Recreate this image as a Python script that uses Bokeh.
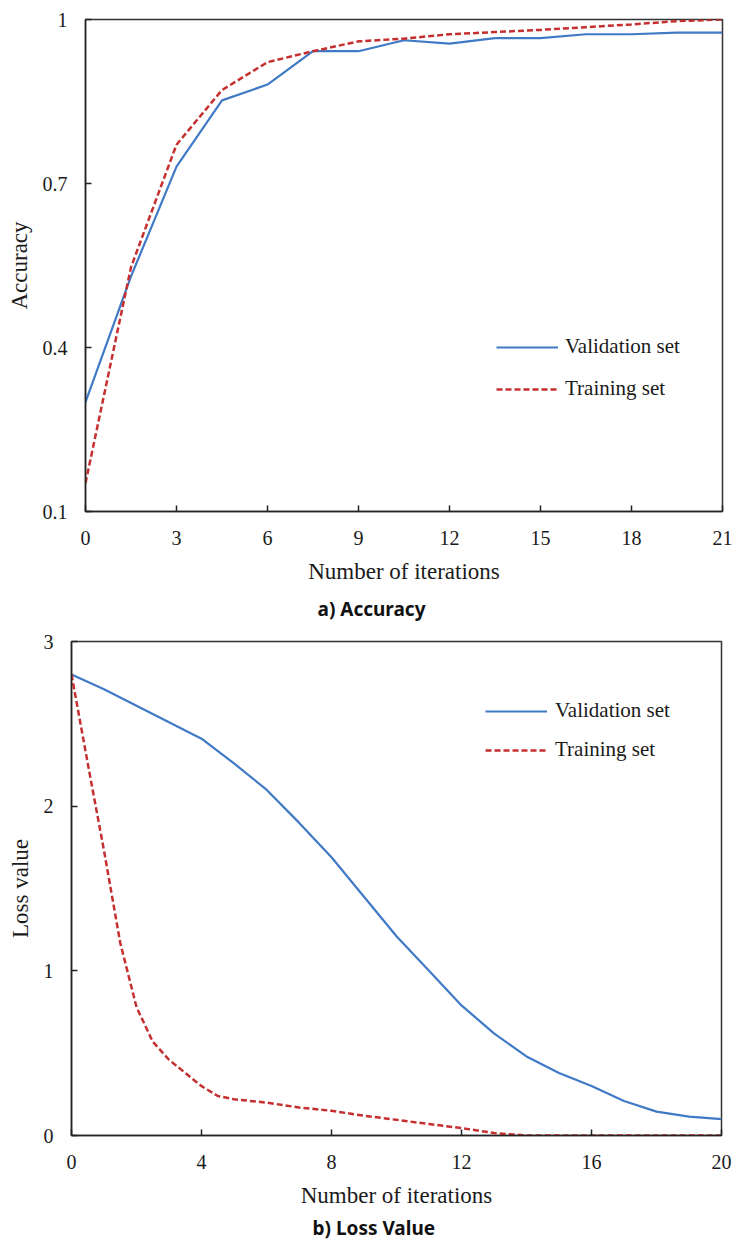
from bokeh.plotting import figure
from bokeh.models import Range1d, FixedTicker, Legend, LegendItem, Title
from bokeh.embed import file_html
from bokeh.resources import INLINE

# ---- data: accuracy ----
acc_iter = [0, 1.5, 3, 4.5, 6, 7.5, 9, 10.5, 12, 13.5, 15, 16.5, 18, 19.5, 21]
val_acc = [0.30, 0.53, 0.731, 0.852, 0.881, 0.942, 0.942, 0.962, 0.956, 0.966, 0.966, 0.973, 0.973, 0.976, 0.976]
train_acc = [0.152, 0.547, 0.771, 0.871, 0.922, 0.942, 0.960, 0.965, 0.973, 0.977, 0.981, 0.986, 0.991, 0.997, 1.0]

# ---- data: loss ----
val_loss_iter = list(range(0, 21))
val_loss = [2.80, 2.71, 2.61, 2.51, 2.41, 2.26, 2.10, 1.90, 1.69, 1.45, 1.21, 1.00, 0.79, 0.62, 0.48, 0.38, 0.30, 0.21, 0.145, 0.115, 0.10]
train_loss_iter = [0, 0.5, 1, 1.5, 2, 2.5, 3, 3.5, 4, 4.5, 5, 6, 7, 8, 9, 10, 11, 12, 13, 14, 15, 16, 17, 18, 19, 20]
train_loss = [2.80, 2.26, 1.73, 1.17, 0.78, 0.57, 0.46, 0.38, 0.30, 0.24, 0.22, 0.20, 0.17, 0.15, 0.12, 0.095, 0.07, 0.045, 0.015, 0, 0, 0, 0, 0, 0, 0]

acc_xticks = [0, 3, 6, 9, 12, 15, 18, 21]
acc_yticks = [0.1, 0.4, 0.7, 1.0]
acc_ylabels = {0.1: "0.1", 0.4: "0.4", 0.7: "0.7", 1.0: "1"}
loss_xticks = [0, 4, 8, 12, 16, 20]
loss_yticks = [0, 1, 2, 3]

BLUE = "#4079C6"
RED = "#C62F30"
SERIF = "Liberation Serif"
AXC = "#222222"


def style(p, xticks, yticks, xlabel, ylabel):
    p.title.visible = False
    p.outline_line_color = "#333333"
    p.outline_line_width = 1.5
    p.xgrid.visible = False
    p.ygrid.visible = False
    for ax in (p.xaxis[0], p.yaxis[0]):
        ax.axis_line_color = AXC
        ax.axis_line_width = 1.5
        ax.major_tick_line_color = AXC
        ax.major_tick_line_width = 1.5
        ax.major_tick_in = 6
        ax.major_tick_out = 0
        ax.minor_tick_line_color = None
        ax.major_label_text_font = SERIF
        ax.major_label_text_font_size = "20px"
        ax.major_label_text_color = "#1a1a1a"
        ax.axis_label_text_font = SERIF
        ax.axis_label_text_font_size = "23px"
        ax.axis_label_text_font_style = "normal"
        ax.axis_label_text_color = "#1a1a1a"
    p.xaxis[0].ticker = FixedTicker(ticks=xticks)
    p.yaxis[0].ticker = FixedTicker(ticks=yticks)
    p.xaxis[0].axis_label = xlabel
    p.yaxis[0].axis_label = ylabel
    p.xaxis[0].major_label_standoff = 19
    p.yaxis[0].major_label_standoff = 18
    p.xaxis[0].axis_label_standoff = 11
    p.yaxis[0].axis_label_standoff = 8


def add_caption(p, text, offset, standoff):
    t = Title(text=text, align="left", offset=offset, standoff=standoff,
              text_font="Noto Sans", text_font_style="bold", text_font_size="19px",
              text_color="#111111")
    p.add_layout(t, "below")


def add_legend(p, r_val, r_train, x, y, spacing, standoff):
    leg = Legend(items=[LegendItem(label="Validation set", renderers=[r_val]),
                        LegendItem(label="Training set", renderers=[r_train])],
                 location=(x, y))
    leg.border_line_color = None
    leg.background_fill_alpha = 0
    leg.padding = 0
    leg.margin = 0
    leg.spacing = spacing
    leg.glyph_width = 62
    leg.glyph_height = 24
    leg.label_height = 24
    leg.label_standoff = standoff
    leg.label_text_font = SERIF
    leg.label_text_font_size = "21px"
    leg.label_text_color = "#1a1a1a"
    p.add_layout(leg, "center")


# ---- chart a ----
p1 = figure(width=736, height=630, x_range=Range1d(0, 21), y_range=Range1d(0.1, 1.0),
            output_backend="svg", toolbar_location=None,
            min_border_left=85, min_border_right=14, min_border_top=19, min_border_bottom=119)
ra_v = p1.line(acc_iter, val_acc, line_color=BLUE, line_width=2.2)
ra_t = p1.line(acc_iter, train_acc, line_color=RED, line_width=2.5, line_dash="6 3")
style(p1, acc_xticks, acc_yticks, "Number of iterations", "Accuracy")
p1.yaxis[0].major_label_overrides = acc_ylabels
add_legend(p1, ra_v, ra_t, 411, 110, 17, 7)
add_caption(p1, "a) Accuracy", 232, 14)

# ---- chart b ----
p2 = figure(width=736, height=612, x_range=Range1d(0, 20), y_range=Range1d(0, 3),
            output_backend="svg", toolbar_location=None,
            min_border_left=71, min_border_right=15, min_border_top=11, min_border_bottom=105)
rb_v = p2.line(val_loss_iter, val_loss, line_color=BLUE, line_width=2.2)
rb_t = p2.line(train_loss_iter, train_loss, line_color=RED, line_width=2.5, line_dash="6 3")
style(p2, loss_xticks, loss_yticks, "Number of iterations", "Loss value")
add_legend(p2, rb_v, rb_t, 414, 373, 14, 8)
add_caption(p2, "b) Loss Value", 241, 4)

open("out.html", "w").write(file_html([p1, p2], INLINE))
